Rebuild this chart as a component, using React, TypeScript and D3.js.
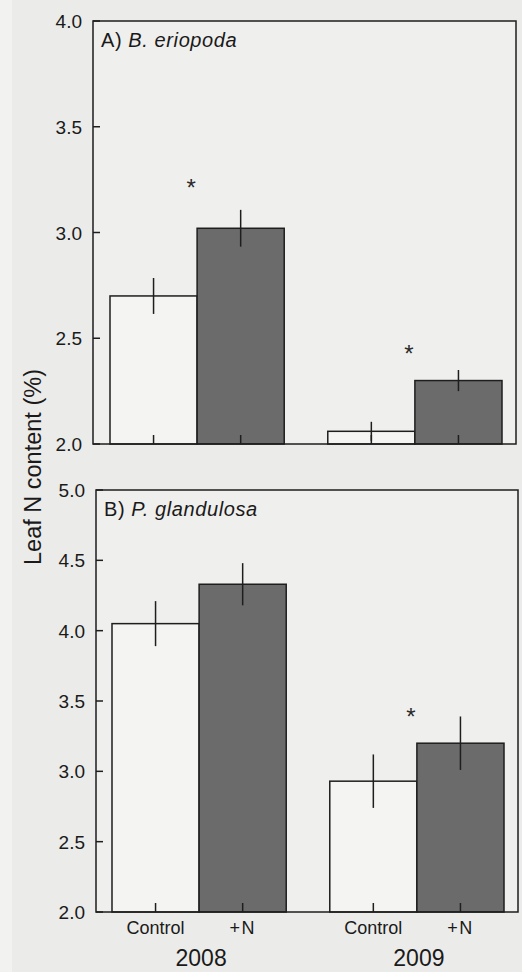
import React, { useEffect } from "react"
import * as d3 from "d3"

// data
const years = ["2008", "2009"]
const treatments = ["Control", "+N"]
const treatmentLabels = ["Control", "+N"]

// panel A, B. eriopoda
const eriopodaMean = [[2.70, 3.02], [2.06, 2.30]]
const eriopodaSE = [[0.085, 0.087], [0.045, 0.05]]
const eriopodaStars = [3.235, 2.45] // y value of the asterisk per year, null = none
const eriopodaTicks = [2.0, 2.5, 3.0, 3.5, 4.0]

// panel B, P. glandulosa
const glandulosaMean = [[4.05, 4.33], [2.93, 3.20]]
const glandulosaSE = [[0.16, 0.15], [0.19, 0.19]]
const glandulosaStars = [null, 3.42]
const glandulosaTicks = [2.0, 2.5, 3.0, 3.5, 4.0, 4.5, 5.0]

const W = 522
const H = 972
const BG = "#ebebe9"
const INK = "#1e1e1e"
const FONT = "'Liberation Sans', Arial, sans-serif"

type PanelProps = {
    letter: string
    species: string
    means: number[][]
    ses: number[][]
    stars: (number | null)[]
    ticks: number[]
    left: number
    right: number
    top: number
    bottom: number
    barLeft: number
    barRight: number
}

function Panel(p: PanelProps) {
    const y = d3.scaleLinear()
        .domain([d3.min(p.ticks) as number, d3.max(p.ticks) as number])
        .range([p.bottom, p.top])

    const xYear = d3.scaleBand()
        .domain(years)
        .range([p.barLeft, p.barRight])
        .paddingInner(0.2)
        .paddingOuter(0)

    const xTreat = d3.scaleBand()
        .domain(treatments)
        .range([0, xYear.bandwidth()])

    const fmt = d3.format(".1f")

    return (
        <g>
            <rect x={p.left} y={p.top} width={p.right - p.left} height={p.bottom - p.top}
                fill="#efefed" stroke="none" />
            {years.map((yr, i) => (
                <g key={yr}>
                    {treatments.map((t, j) => {
                        const x0 = (xYear(yr) as number) + (xTreat(t) as number)
                        const cx = x0 + xTreat.bandwidth() / 2
                        const m = p.means[i][j]
                        const se = p.ses[i][j]
                        return (
                            <g key={t}>
                                <rect x={x0} y={y(m)} width={xTreat.bandwidth()} height={p.bottom - y(m)}
                                    fill={j === 0 ? "#f4f4f2" : "#6b6b6b"} stroke={INK} strokeWidth={1.5} />
                                <line x1={cx} x2={cx} y1={y(m + se)} y2={y(m - se)} stroke={INK} strokeWidth={1.5} />
                                {/* inward category tick */}
                                <line x1={cx} x2={cx} y1={p.bottom} y2={p.bottom - 9} stroke={INK} strokeWidth={1.5} />
                            </g>
                        )
                    })}
                    {p.stars[i] != null && (
                        <text x={(xYear(yr) as number) + xYear.bandwidth() / 2 - 6}
                            y={y(p.stars[i] as number) + 13}
                            textAnchor="middle" fontSize={24} fill="#2a2a2a" fontFamily={FONT}>*</text>
                    )}
                </g>
            ))}
            <rect x={p.left} y={p.top} width={p.right - p.left} height={p.bottom - p.top}
                fill="none" stroke={INK} strokeWidth={1.5} />
            {p.ticks.map(t => (
                <g key={t}>
                    <line x1={p.left} x2={p.left + 7} y1={y(t)} y2={y(t)} stroke={INK} strokeWidth={1.5} />
                    <text x={p.left - 11} y={y(t) + 7} textAnchor="end" fontSize={19}
                        fill="#1a1a1a" fontFamily={FONT}>{fmt(t)}</text>
                </g>
            ))}
            <text x={p.left + 8} y={p.top + 26} fontSize={20} letterSpacing={0.6} fill="#1a1a1a" fontFamily={FONT}>
                {p.letter + ") "}<tspan fontStyle="italic">{p.species}</tspan>
            </text>
        </g>
    )
}

export default function App() {
    useEffect(() => {
        document.body.style.margin = "0"
        document.body.style.background = BG
    }, [])

    // x positions for the bottom labels use the lower panel's band scales
    const xYear = d3.scaleBand().domain(years).range([112, 504]).paddingInner(0.2).paddingOuter(0)
    const xTreat = d3.scaleBand().domain(treatments).range([0, xYear.bandwidth()])

    return (
        <svg width={W} height={H} style={{ display: "block", background: BG }}>
            <rect x={0} y={0} width={12} height={H} fill="#f2f2f0" />
            <Panel letter="A" species="B. eriopoda" means={eriopodaMean} ses={eriopodaSE}
                stars={eriopodaStars} ticks={eriopodaTicks}
                left={93} right={516} top={21} bottom={444} barLeft={110} barRight={502} />
            <Panel letter="B" species="P. glandulosa" means={glandulosaMean} ses={glandulosaSE}
                stars={glandulosaStars} ticks={glandulosaTicks}
                left={96} right={518} top={490} bottom={912} barLeft={112} barRight={504} />

            {years.map(yr => (
                <g key={yr}>
                    {treatments.map((t, j) => (
                        <text key={t} x={(xYear(yr) as number) + (xTreat(t) as number) + xTreat.bandwidth() / 2}
                            y={934} textAnchor="middle" fontSize={18} letterSpacing={j === 1 ? 1.5 : 0}
                            fill="#1a1a1a" fontFamily={FONT}>
                            {treatmentLabels[j]}</text>
                    ))}
                    <text x={(xYear(yr) as number) + xYear.bandwidth() / 2 + 2} y={966} textAnchor="middle"
                        fontSize={23} fill="#1a1a1a" fontFamily={FONT}>{yr}</text>
                </g>
            ))}

            <text transform="translate(41,467) rotate(-90)" textAnchor="middle" fontSize={23.5}
                fill="#1a1a1a" fontFamily={FONT}>Leaf N content (%)</text>
        </svg>
    )
}
